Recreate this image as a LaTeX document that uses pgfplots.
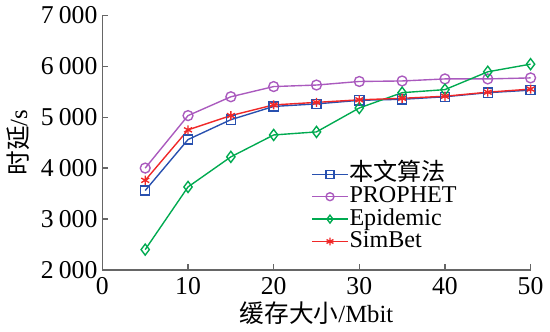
\documentclass[border=0pt]{standalone}
\usepackage{pgfplots}
\pgfplotsset{compat=1.18}
\usepackage{fontspec}
\setmainfont{Liberation Serif}
\newfontfamily\cjk{Noto Sans CJK SC}
\definecolor{cblue}{RGB}{40,80,175}
\definecolor{cpurple}{RGB}{170,90,190}
\definecolor{cgreen}{RGB}{0,170,80}
\definecolor{cred}{RGB}{240,40,40}
\begin{document}
\begin{tikzpicture}
\begin{axis}[
  scale only axis, width=216bp, height=128.5bp,
  xmin=0, xmax=50, ymin=2000, ymax=7000,
  xtick={0,10,20,30,40,50},
  ytick={2000,3000,4000,5000,6000,7000},
  axis x line*=bottom, axis y line*=left,
  axis line style={gray!80!black, line width=0.6pt},
  tick style={gray!80!black, line width=0.6pt},
  tick align=inside, major tick length=3bp,
  /pgf/number format/assume math mode=true,
  /pgf/number format/1000 sep={\hspace{0.2em}},
  ticklabel style={font=\fontsize{13}{15}\selectfont},
  yticklabel style={xshift=1bp},
  xlabel={{\cjk 缓存大小}/Mbit},
  ylabel={{\cjk 时延}/s},
  label style={font=\fontsize{12.5}{14}\selectfont},
  xlabel style={yshift=3bp},
  ylabel style={yshift=-1bp},
  legend style={draw=none, fill=none, at={(0.485,0.425)}, anchor=north west,
    font=\fontsize{12.2}{13}\selectfont, row sep=0bp, inner sep=0.5bp,
    nodes={text height=8.2bp, text depth=2.1bp, inner sep=0.5bp}},
  legend cell align=left,
  legend image code/.code={
    \draw[mark repeat=2,mark phase=2, mark size=2bp] plot coordinates {(0bp,0bp) (9bp,0bp) (18bp,0bp)};},
  every axis plot/.append style={line width=0.7pt},
]
\addplot[cblue, mark=square, mark size=2.3bp] coordinates {
(5,3560) (10,4560) (15,4950) (20,5210) (25,5260) (30,5330) (35,5350) (40,5400) (45,5480) (50,5530)};
\addlegendentry{{\cjk 本文算法}}
\addplot[cpurple, mark=o, mark size=2.5bp] coordinates {
(5,4000) (10,5030) (15,5400) (20,5600) (25,5630) (30,5700) (35,5710) (40,5750) (45,5750) (50,5770)};
\addlegendentry{PROPHET}
\addplot[cgreen, mark=diamond, mark size=2.8bp] coordinates {
(5,2400) (10,3630) (15,4220) (20,4650) (25,4710) (30,5180) (35,5480) (40,5540) (45,5890) (50,6040)};
\addlegendentry{Epidemic}
\addplot[cred, mark=asterisk, mark size=2.3bp] coordinates {
(5,3760) (10,4750) (15,5030) (20,5240) (25,5290) (30,5340) (35,5370) (40,5410) (45,5490) (50,5550)};
\addlegendentry{SimBet}
\end{axis}
\end{tikzpicture}
\end{document}
